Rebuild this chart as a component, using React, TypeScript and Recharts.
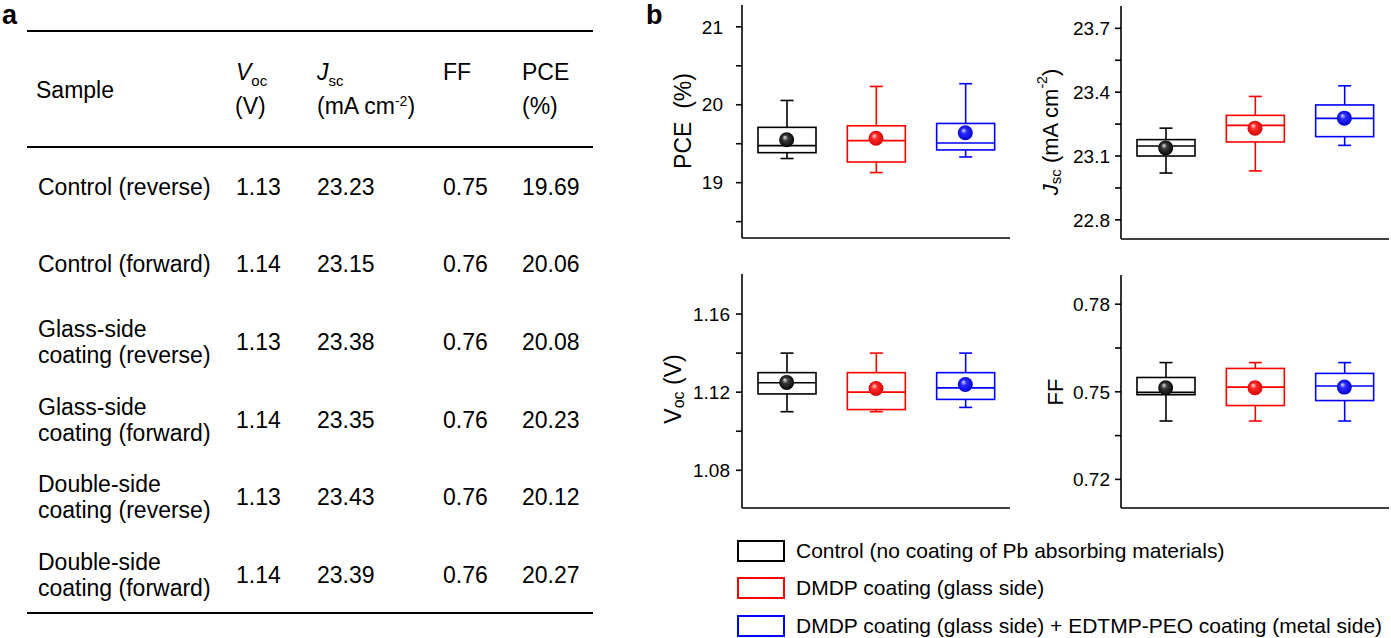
import React from 'react';
import { ComposedChart, Bar, Scatter, XAxis, YAxis } from 'recharts';

// groups shown in every box plot
const groups = ['Control', 'DMDP coating', 'DMDP + EDTMP-PEO'];
const groupColors = ['#000000', '#ff0000', '#0000ff'];

// PCE (%)
const pceMin = [19.31, 19.13, 19.33];
const pceQ1 = [19.385, 19.265, 19.42];
const pceMedian = [19.475, 19.54, 19.51];
const pceQ3 = [19.71, 19.73, 19.76];
const pceMax = [20.055, 20.235, 20.27];
const pceMean = [19.55, 19.57, 19.64];
const pceTicks = [18.5, 19, 19.5, 20, 20.5, 21];
const pceLabels = [19, 20, 21];

// Jsc (mA cm-2)
const jscMin = [23.02, 23.03, 23.15];
const jscQ1 = [23.1, 23.166, 23.191];
const jscMedian = [23.147, 23.244, 23.277];
const jscQ3 = [23.177, 23.291, 23.34];
const jscMax = [23.231, 23.38, 23.43];
const jscMean = [23.138, 23.231, 23.278];
const jscTicks = [22.8, 22.95, 23.1, 23.25, 23.4, 23.55, 23.7];
const jscLabels = [22.8, 23.1, 23.4, 23.7];

// Voc (V)
const vocMin = [1.11, 1.11, 1.1122];
const vocQ1 = [1.1191, 1.1111, 1.1163];
const vocMedian = [1.1248, 1.12, 1.1222];
const vocQ3 = [1.13, 1.13, 1.13];
const vocMax = [1.14, 1.14, 1.14];
const vocMean = [1.125, 1.1219, 1.1239];
const vocTicks = [1.08, 1.1, 1.12, 1.14, 1.16];
const vocLabels = [1.08, 1.12, 1.16];

// FF
const ffMin = [0.74, 0.74, 0.74];
const ffQ1 = [0.749, 0.7453, 0.747];
const ffMedian = [0.7498, 0.7516, 0.752];
const ffQ3 = [0.7549, 0.758, 0.7563];
const ffMax = [0.76, 0.76, 0.76];
const ffMean = [0.7514, 0.7514, 0.7516];
const ffTicks = [0.72, 0.735, 0.75, 0.765, 0.78];
const ffLabels = [0.72, 0.75, 0.78];

const legendLabels = [
  'Control (no coating of Pb absorbing materials)',
  'DMDP coating (glass side)',
  'DMDP coating (glass side) + EDTMP-PEO coating (metal side)',
];

// table (panel a)
const tableSamples = [
  ['Control (reverse)'],
  ['Control (forward)'],
  ['Glass-side', 'coating (reverse)'],
  ['Glass-side', 'coating (forward)'],
  ['Double-side', 'coating (reverse)'],
  ['Double-side', 'coating (forward)'],
];
const tableVoc = ['1.13', '1.14', '1.13', '1.14', '1.13', '1.14'];
const tableJsc = ['23.23', '23.15', '23.38', '23.35', '23.43', '23.39'];
const tableFF = ['0.75', '0.76', '0.76', '0.76', '0.76', '0.76'];
const tablePCE = ['19.69', '20.06', '20.08', '20.23', '20.12', '20.27'];

const FONT = "'Liberation Sans', Arial, Helvetica, sans-serif";
const LINE_W = 1.6;
const BOX_W = 58;
const CAP_W = 13;
const PLOT_W = 268;
const axisStyle = { stroke: '#000', strokeWidth: LINE_W };

function buildRows(min: number[], q1: number[], med: number[], q3: number[], max: number[], mean: number[]) {
  return groups.map((name, i) => ({
    name,
    color: groupColors[i],
    median: med[i],
    mean: mean[i],
    whisker: [min[i], max[i]],
    box: [q1[i], q3[i]],
  }));
}

function colorOf(props: any) {
  return (props.payload && props.payload.color) || props.color || '#000';
}

function WhiskerShape(props: any) {
  const { x, y, width, height } = props;
  const c = colorOf(props);
  const cx = x + width / 2;
  const top = Math.min(y, y + height);
  const bottom = Math.max(y, y + height);
  return (
    <g stroke={c} strokeWidth={LINE_W}>
      <line x1={cx} x2={cx} y1={top} y2={bottom} />
      <line x1={cx - CAP_W / 2} x2={cx + CAP_W / 2} y1={top} y2={top} />
      <line x1={cx - CAP_W / 2} x2={cx + CAP_W / 2} y1={bottom} y2={bottom} />
    </g>
  );
}

function BoxShape(props: any) {
  const { x, y, width, height } = props;
  const c = colorOf(props);
  const top = Math.min(y, y + height);
  return <rect x={x} y={top} width={width} height={Math.abs(height)} fill="#fff" stroke={c} strokeWidth={LINE_W} />;
}

function MedianShape(props: any) {
  const { cx, cy } = props;
  const c = colorOf(props);
  return <line x1={cx - BOX_W / 2} x2={cx + BOX_W / 2} y1={cy} y2={cy} stroke={c} strokeWidth={LINE_W} />;
}

const highlight: Record<string, string[]> = {
  '#000000': ['#e8e8e8', '#3a3a3a', '#000000'],
  '#ff0000': ['#ffe0e0', '#ff2a2a', '#d00000'],
  '#0000ff': ['#e0e0ff', '#2a2aff', '#0000c8'],
};

function makeMeanShape(panelId: string) {
  return function MeanShape(props: any) {
    const { cx, cy } = props;
    const c = colorOf(props);
    const stops = highlight[c] || [c, c, c];
    const gid = `${panelId}-ball-${c.slice(1)}`;
    return (
      <g>
        <defs>
          <radialGradient id={gid} cx="0.5" cy="0.5" r="0.55" fx="0.36" fy="0.32">
            <stop offset="0%" stopColor={stops[0]} />
            <stop offset="35%" stopColor={stops[1]} />
            <stop offset="100%" stopColor={stops[2]} />
          </radialGradient>
        </defs>
        <circle cx={cx} cy={cy} r={7.5} fill={`url(#${gid})`} />
      </g>
    );
  };
}

function makeTick(labels: number[], digits: number) {
  return function YTick(props: any) {
    const { x, y, payload } = props;
    const v = payload.value;
    if (!labels.some((l) => Math.abs(l - v) < 1e-6)) return <g />;
    return (
      <text x={x} y={y} dy="0.355em" textAnchor="end" fontSize={19} fontFamily={FONT} fill="#000">
        {Number(v).toFixed(digits)}
      </text>
    );
  };
}

interface PanelProps {
  id: string;
  rows: any[];
  domain: [number, number];
  ticks: number[];
  labels: number[];
  digits: number;
  tickGap: number;
  plotLeft: number;
  plotTop: number;
  plotH: number;
}

function BoxPanel({ id, rows, domain, ticks, labels, digits, tickGap, plotLeft, plotTop, plotH }: PanelProps) {
  const yw = 72;
  const width = yw + PLOT_W + 4;
  const height = 6 + plotH + 20;
  const Tick = makeTick(labels, digits);
  return (
    <div style={{ position: 'absolute', left: plotLeft - yw, top: plotTop - 6 }}>
      <ComposedChart width={width} height={height} data={rows} margin={{ top: 6, right: 4, bottom: 0, left: 0 }}>
        <XAxis dataKey="name" height={20} tick={false} tickSize={10} interval={0} axisLine={axisStyle} tickLine={axisStyle} />
        <XAxis xAxisId="top" orientation="top" dataKey="name" height={0} tick={false} tickLine={false} axisLine={axisStyle} />
        <XAxis xAxisId="box" dataKey="name" hide />
        <YAxis
          type="number"
          domain={domain}
          allowDataOverflow
          ticks={ticks}
          interval={0}
          width={yw}
          tickSize={6}
          tickMargin={tickGap}
          axisLine={axisStyle}
          tickLine={axisStyle}
          tick={<Tick />}
        />
        <YAxis
          yAxisId="right"
          orientation="right"
          type="number"
          domain={domain}
          allowDataOverflow
          width={0}
          tick={false}
          tickLine={false}
          axisLine={axisStyle}
        />
        <Bar dataKey="whisker" barSize={BOX_W} shape={WhiskerShape} isAnimationActive={false} />
        <Bar dataKey="box" xAxisId="box" barSize={BOX_W} shape={BoxShape} isAnimationActive={false} />
        <Scatter dataKey="median" shape={MedianShape} isAnimationActive={false} />
        <Scatter dataKey="mean" shape={makeMeanShape(id)} isAnimationActive={false} />
      </ComposedChart>
    </div>
  );
}

const cell: React.CSSProperties = {
  position: 'absolute',
  fontFamily: FONT,
  fontSize: 23,
  lineHeight: '26px',
  color: '#000',
  whiteSpace: 'nowrap',
};

function Table() {
  const cols = [38, 236, 317, 443, 522];
  const firstRow = 186.5;
  const rowStep = 77.7;
  const rule = (top: number) => (
    <div style={{ position: 'absolute', left: 27, top, width: 566, height: 2, background: '#000' }} />
  );
  const sub: React.CSSProperties = { fontSize: 15, position: 'relative', top: 6 };
  return (
    <>
      {rule(30)}
      {rule(146)}
      {rule(612)}
      <div style={{ ...cell, left: 36, top: 90 - 13 }}>Sample</div>
      <div style={{ ...cell, left: cols[1], top: 72 - 13 }}>
        <i>V</i>
        <span style={sub}>oc</span>
      </div>
      <div style={{ ...cell, left: cols[1] - 1, top: 106 - 13 }}>(V)</div>
      <div style={{ ...cell, left: cols[2], top: 72 - 13 }}>
        <i>J</i>
        <span style={sub}>sc</span>
      </div>
      <div style={{ ...cell, left: cols[2], top: 106 - 13 }}>
        (mA cm<span style={{ fontSize: 14, position: 'relative', top: -8 }}>-2</span>)
      </div>
      <div style={{ ...cell, left: cols[3], top: 72 - 13 }}>FF</div>
      <div style={{ ...cell, left: cols[4], top: 72 - 13 }}>PCE</div>
      <div style={{ ...cell, left: cols[4], top: 106 - 13 }}>(%)</div>
      {tableSamples.map((lines, i) => {
        const cy = firstRow + i * rowStep;
        return (
          <React.Fragment key={i}>
            <div style={{ ...cell, left: cols[0], top: cy - (lines.length * 26) / 2 }}>
              {lines.map((l, j) => (
                <div key={j}>{l}</div>
              ))}
            </div>
            <div style={{ ...cell, left: cols[1], top: cy - 13 }}>{tableVoc[i]}</div>
            <div style={{ ...cell, left: cols[2], top: cy - 13 }}>{tableJsc[i]}</div>
            <div style={{ ...cell, left: cols[3], top: cy - 13 }}>{tableFF[i]}</div>
            <div style={{ ...cell, left: cols[4], top: cy - 13 }}>{tablePCE[i]}</div>
          </React.Fragment>
        );
      })}
    </>
  );
}

function AxisTitles() {
  const t = (x: number, y: number, children: React.ReactNode, size = 23) => (
    <text
      transform={`translate(${x},${y}) rotate(-90)`}
      textAnchor="middle"
      dominantBaseline="central"
      fontSize={size}
      fontFamily={FONT}
      fill="#000"
      style={{ whiteSpace: 'pre' }}
    >
      {children}
    </text>
  );
  return (
    <svg width={1391} height={638} style={{ position: 'absolute', left: 0, top: 0, pointerEvents: 'none' }}>
      {t(683, 121, 'PCE  (%)')}
      {t(
        1050,
        132,
        <>
          <tspan fontStyle="italic">J</tspan>
          <tspan fontSize={15} dy={5}>sc</tspan>
          <tspan dy={-5}> (mA cm</tspan>
          <tspan fontSize={14} dy={-8}>-2</tspan>
          <tspan dy={8}>)</tspan>
        </>,
        22
      )}
      {t(
        673,
        389,
        <>
          <tspan>V</tspan>
          <tspan fontSize={16} dy={5}>oc</tspan>
          <tspan dy={-5}> (V)</tspan>
        </>
      )}
      {t(1055, 392, 'FF', 22)}
    </svg>
  );
}

function Legend() {
  return (
    <>
      {legendLabels.map((label, i) => {
        const top = 540 + i * 37.3;
        return (
          <React.Fragment key={label}>
            <div
              style={{
                position: 'absolute',
                left: 737,
                top,
                width: 44,
                height: 18,
                border: `2px solid ${groupColors[i]}`,
              }}
            />
            <div style={{ ...cell, fontSize: 21, left: 796, top: top - 2 }}>{label}</div>
          </React.Fragment>
        );
      })}
    </>
  );
}

export default function App() {
  const letter: React.CSSProperties = {
    position: 'absolute',
    fontFamily: FONT,
    fontWeight: 'bold',
    fontSize: 27,
    lineHeight: '31px',
  };
  return (
    <div
      style={{
        position: 'absolute',
        left: 0,
        top: 0,
        width: 1391,
        height: 638,
        overflow: 'hidden',
        background: '#fff',
      }}
    >
      <Table />
      <BoxPanel
        id="pce"
        rows={buildRows(pceMin, pceQ1, pceMedian, pceQ3, pceMax, pceMean)}
        domain={[18.29, 21.28]}
        ticks={pceTicks}
        labels={pceLabels}
        digits={0}
        tickGap={13}
        plotLeft={742}
        plotTop={5}
        plotH={233}
      />
      <BoxPanel
        id="jsc"
        rows={buildRows(jscMin, jscQ1, jscMedian, jscQ3, jscMax, jscMean)}
        domain={[22.71, 23.805]}
        ticks={jscTicks}
        labels={jscLabels}
        digits={1}
        tickGap={5}
        plotLeft={1121}
        plotTop={6}
        plotH={233}
      />
      <BoxPanel
        id="voc"
        rows={buildRows(vocMin, vocQ1, vocMedian, vocQ3, vocMax, vocMean)}
        domain={[1.0607, 1.1805]}
        ticks={vocTicks}
        labels={vocLabels}
        digits={2}
        tickGap={6}
        plotLeft={742}
        plotTop={274}
        plotH={234}
      />
      <BoxPanel
        id="ff"
        rows={buildRows(ffMin, ffQ1, ffMedian, ffQ3, ffMax, ffMean)}
        domain={[0.7102, 0.79]}
        ticks={ffTicks}
        labels={ffLabels}
        digits={2}
        tickGap={5}
        plotLeft={1121}
        plotTop={275}
        plotH={233}
      />
      <AxisTitles />
      <Legend />
      <div style={{ ...letter, left: 2, top: 0 }}>a</div>
      <div style={{ ...letter, left: 646, top: 0 }}>b</div>
    </div>
  );
}
